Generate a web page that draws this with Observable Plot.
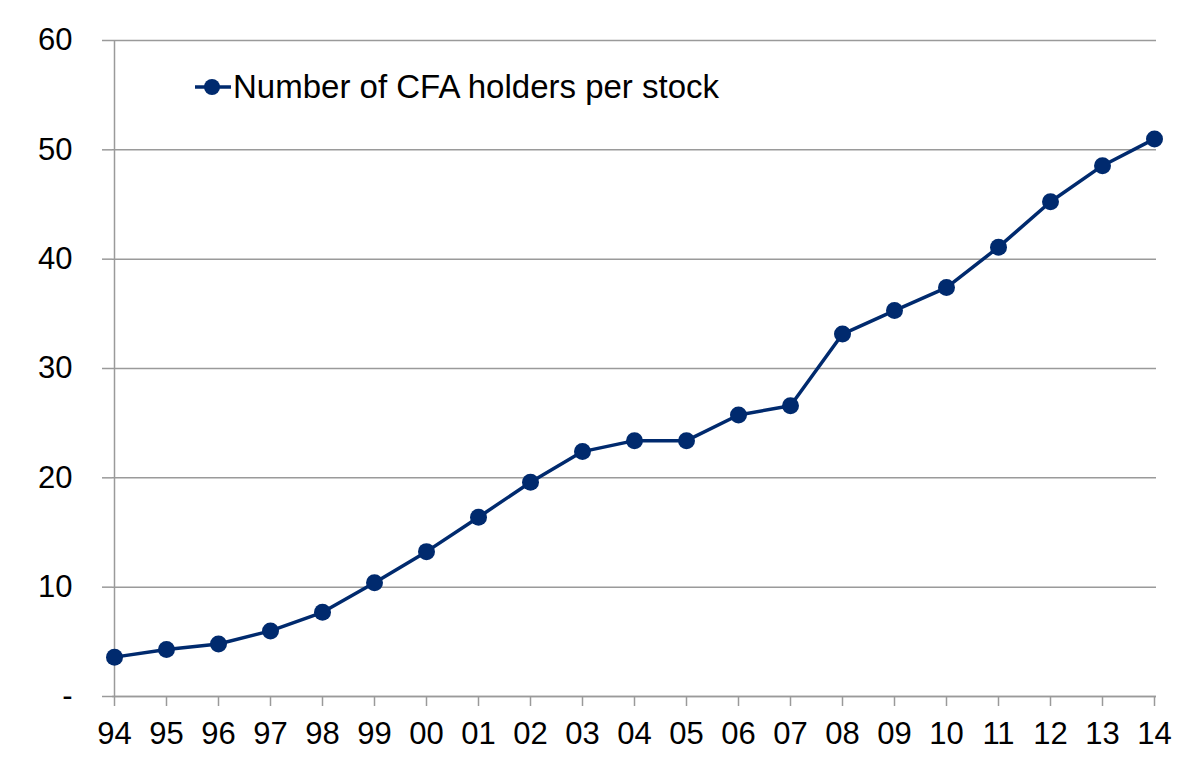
<!DOCTYPE html>
<html>
<head>
<meta charset="utf-8">
<script src="https://cdn.jsdelivr.net/npm/d3@7"></script>
<script src="https://cdn.jsdelivr.net/npm/@observablehq/plot@0.6"></script>
<style>
  html, body { margin: 0; padding: 0; background: #fff; }
  #wrap { position: relative; width: 1200px; height: 783px; font-family: "Liberation Sans", Arial, sans-serif; }
  #legend { position: absolute; left: 195px; top: 68px; display: flex; align-items: center; font-size: 33px; color: #000; }
  #legend svg { display: block; margin-right: 2px; }
</style>
</head>
<body>
<div id="wrap">
  <div id="chart"></div>
  <div id="legend"><svg width="36" height="20"><line x1="0" x2="36" y1="10" y2="10" stroke="#002A6E" stroke-width="3.5"/><circle cx="17" cy="10" r="8" fill="#002A6E"/></svg><span id="legend-label"></span></div>
</div>
<script>
const years = ["94","95","96","97","98","99","00","01","02","03","04","05","06","07","08","09","10","11","12","13","14"];
const holders = [3.6, 4.3, 4.8, 6.0, 7.7, 10.4, 13.25, 16.4, 19.6, 22.4, 23.4, 23.4, 25.75, 26.6, 33.15, 35.3, 37.4, 41.1, 45.25, 48.55, 51.0];
const yTicks = [0, 10, 20, 30, 40, 50, 60];
const seriesName = "Number of CFA holders per stock";

const data = years.map((y, i) => ({year: y, value: holders[i]}));
const navy = "#002A6E";
const gray = "#9a9a9a";

document.getElementById("legend-label").textContent = seriesName;

const chart = Plot.plot({
  width: 1200,
  height: 783,
  marginLeft: 112,
  marginRight: 44,
  marginTop: 40,
  marginBottom: 87,
  style: {fontFamily: "'Liberation Sans', Arial, sans-serif", fontSize: "31px", color: "#000", background: "#fff"},
  x: {type: "point", domain: years, padding: 0},
  y: {domain: [0, 60]},
  marks: [
    Plot.gridY(yTicks, {stroke: gray, strokeOpacity: 1, strokeWidth: 1.5}),
    Plot.ruleX([years[0]], {stroke: gray, strokeWidth: 1.5}),
    Plot.ruleY([0], {stroke: gray, strokeWidth: 1.5}),
    Plot.axisY(yTicks, {tickSize: 10, tickPadding: 30, stroke: gray, strokeWidth: 1.5, fill: "#000", label: null, tickFormat: d => d === 0 ? "-" : String(d)}),
    Plot.axisX(years, {tickSize: 10, tickPadding: 15, stroke: gray, strokeWidth: 1.5, fill: "#000", label: null}),
    Plot.line(data, {x: "year", y: "value", stroke: navy, strokeWidth: 3.5}),
    Plot.dot(data, {x: "year", y: "value", r: 8.5, fill: navy, stroke: "none"})
  ]
});
document.getElementById("chart").appendChild(chart);
</script>
</body>
</html>
